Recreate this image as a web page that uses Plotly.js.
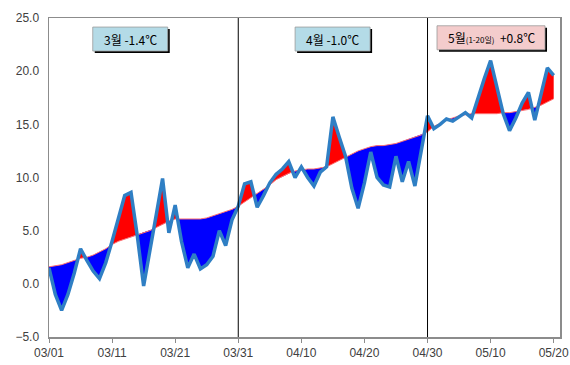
<!DOCTYPE html>
<html>
<head>
<meta charset="utf-8">
<script src="https://cdn.plot.ly/plotly-3.0.1.min.js"></script>
<style>html,body{margin:0;padding:0;background:#fff}#chart{width:570px;height:365px}</style>
</head>
<body>
<div id="chart"></div>
<script>
// Daily observed mean temperature, 03/01 .. 05/20
const observed = [
  1.5, -1.0, -2.5, -1.0, 1.0, 3.3, 2.2, 1.2, 0.5, 2.0,
  4.0, 6.3, 8.3, 8.6, 4.5, -0.2, 3.0, 6.5, 9.9, 4.8,
  7.4, 4.0, 1.5, 2.8, 1.4, 1.8, 2.6, 5.0, 3.6, 6.0,
  7.3, 9.4, 9.6, 7.2, 8.3, 9.5, 10.3, 10.8, 11.5, 10.0,
  11.0, 10.0, 9.2, 10.5, 11.0, 15.7, 13.8, 12.0, 9.0, 7.1,
  9.5, 12.4, 10.0, 9.3, 9.1, 12.0, 9.6, 11.5, 9.2, 12.5,
  15.8, 14.6, 15.0, 15.5, 15.3, 15.7, 16.1, 15.6, 17.5, 19.3,
  21.0, 18.5, 16.0, 14.4, 15.6, 17.0, 18.0, 15.4, 17.8, 20.3,
  19.6
];
// Daily normal (climatological) temperature, 03/01 .. 05/20
const normal = [
  1.6, 1.7, 1.8, 2.0, 2.2, 2.4, 2.5, 2.7, 3.0, 3.3,
  3.7, 4.0, 4.2, 4.4, 4.6, 4.8, 5.0, 5.3, 5.6, 5.9,
  6.1, 6.1, 6.1, 6.1, 6.1, 6.2, 6.4, 6.6, 6.8, 7.0,
  7.3, 7.7, 8.1, 8.5, 8.9, 9.3, 9.8, 10.1, 10.4, 10.6,
  10.7, 10.8, 10.8, 10.9, 11.0, 11.3, 11.6, 11.9, 12.2, 12.5,
  12.7, 12.9, 13.0, 13.0, 13.1, 13.2, 13.4, 13.6, 13.8, 14.0,
  14.3, 14.8, 15.1, 15.4, 15.6, 15.8, 15.9, 16.0, 16.0, 16.0,
  16.0, 16.0, 16.1, 16.1, 16.2, 16.3, 16.4, 16.6, 16.8, 17.1,
  17.4
];
const tickLabels = ['03/01','03/11','03/21','03/31','04/10','04/20','04/30','05/10','05/20'];
const tickDays = [0, 10, 20, 30, 40, 50, 60, 70, 80];
const monthBreakDays = [30, 60];
const monthLabels = ['3월 -1.4℃', '4월 -1.0℃', "5월<span style='font-size:8px'>(1-20일)</span>  +0.8℃"];

const DAY = 86400000;
const base = Date.UTC(2013, 2, 1);
const xOf = d => base + d * DAY;

// Build fill polygons split where the two series cross
const fx = [], fn = [], fhi = [], flo = [];
for (let i = 0; i < observed.length; i++) {
  fx.push(xOf(i)); fn.push(normal[i]);
  fhi.push(Math.max(observed[i], normal[i]));
  flo.push(Math.min(observed[i], normal[i]));
  if (i < observed.length - 1) {
    const d0 = observed[i] - normal[i], d1 = observed[i+1] - normal[i+1];
    if (d0 * d1 < 0) {
      const t = d0 / (d0 - d1);
      const yc = normal[i] + t * (normal[i+1] - normal[i]);
      fx.push(xOf(i + t)); fn.push(yc); fhi.push(yc); flo.push(yc);
    }
  }
}
const xs = observed.map((_, i) => xOf(i));

const traces = [
  {x: fx, y: fn, mode: 'lines', line: {width: 0}, hoverinfo: 'skip', showlegend: false},
  {x: fx, y: fhi, mode: 'lines', line: {width: 0}, fill: 'tonexty', fillcolor: '#ff0000', hoverinfo: 'skip', showlegend: false},
  {x: fx, y: fn, mode: 'lines', line: {width: 0}, hoverinfo: 'skip', showlegend: false},
  {x: fx, y: flo, mode: 'lines', line: {width: 0}, fill: 'tonexty', fillcolor: '#0000ff', hoverinfo: 'skip', showlegend: false},
  {x: xs, y: normal, mode: 'lines', line: {color: '#ff7070', width: 1}, showlegend: false},
  {x: xs, y: observed, mode: 'lines', line: {color: '#2f7fc4', width: 3.5}, showlegend: false}
];

const shapes = monthBreakDays.map(d => ({
  type: 'line', xref: 'x', yref: 'paper', x0: xOf(d), x1: xOf(d), y0: 0, y1: 1,
  line: {color: '#000', width: 1}
}));

// Label boxes (paper anchor + pixel size)
const boxX = [0.159, 0.555, 0.865];
const boxY = [0.934, 0.934, 0.938];
const boxW = [75, 75, 108];
const boxH = 24;
const boxBg = ['#b4dbe7', '#b4dbe7', '#f4cccc'];
const annotations = [];
monthLabels.forEach((t, k) => {
  const rect = (dx, dy, fill, lc, lw) => ({
    type: 'rect', layer: 'above', xref: 'paper', yref: 'paper',
    xsizemode: 'pixel', ysizemode: 'pixel', xanchor: boxX[k], yanchor: boxY[k],
    x0: -boxW[k] / 2 + dx, x1: boxW[k] / 2 + dx, y0: -boxH / 2 + dy, y1: boxH / 2 + dy,
    fillcolor: fill, line: {color: lc, width: lw}
  });
  shapes.push(rect(2, -2, '#000', '#000', 0));
  shapes.push(rect(0, 0, boxBg[k], '#9a9a9a', 0.8));
  annotations.push({xref: 'paper', yref: 'paper', x: boxX[k], y: boxY[k], text: t, showarrow: false,
    font: {family: 'Noto Sans CJK KR', size: 12, color: '#000'}, xanchor: 'center', yanchor: 'middle'});
});

const layout = {
  width: 570, height: 365,
  margin: {l: 49, r: 10, t: 18, b: 28},
  paper_bgcolor: '#fff', plot_bgcolor: '#fff',
  xaxis: {
    type: 'date', range: [xOf(0), xOf(81)],
    tickvals: tickDays.map(xOf), ticktext: tickLabels,
    showgrid: false, zeroline: false,
    showline: true, linecolor: '#8c8c8c', linewidth: 1.5, mirror: true,
    ticks: 'outside', ticklen: 4, tickcolor: '#8c8c8c',
    tickfont: {family: 'Liberation Sans', size: 12, color: '#404040'}
  },
  yaxis: {
    range: [-5, 25], dtick: 5, tick0: -5, tickformat: '.1f',
    showgrid: false, zeroline: false,
    showline: true, linecolor: '#8c8c8c', linewidth: 1.5, mirror: true,
    ticks: '', ticklabelstandoff: 6,
    tickfont: {family: 'Liberation Sans', size: 12, color: '#404040'}
  },
  shapes: shapes,
  annotations: annotations,
  showlegend: false
};

Plotly.newPlot('chart', traces, layout, {displayModeBar: false, staticPlot: true});
</script>
</body>
</html>
